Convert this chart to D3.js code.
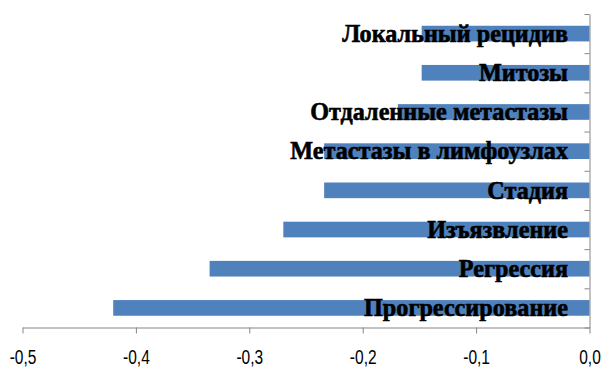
<!DOCTYPE html>
<html>
<head>
<meta charset="utf-8">
<script src="https://cdn.jsdelivr.net/npm/d3@7"></script>
<style>
  html, body { margin: 0; padding: 0; background: #fff; }
  svg { display: block; }
</style>
</head>
<body>
<svg id="chart" width="605" height="370"></svg>
<script>
// Categories, top to bottom
const categories = [
  "Локальный рецидив",
  "Митозы",
  "Отдаленные метастазы",
  "Метастазы в лимфоузлах",
  "Стадия",
  "Изъязвление",
  "Регрессия",
  "Прогрессирование"
];
// Coefficient for each category
const values = [-0.148, -0.148, -0.169, -0.234, -0.234, -0.270, -0.335, -0.420];
// Value axis ticks
const xTicks = [-0.5, -0.4, -0.3, -0.2, -0.1, 0.0];

const svg = d3.select("#chart");
const plot = { left: 22.5, right: 589.5, top: 14, bottom: 327.5 };

const x = d3.scaleLinear().domain([-0.5, 0]).range([plot.left, plot.right]);
const y = d3.scaleBand().domain(categories).range([plot.top, plot.bottom]).padding(0);
// Category boundaries for the tick marks on the vertical axis
const yEdge = d3.scaleLinear().domain([0, categories.length]).range([plot.top, plot.bottom]);

const barH = y.bandwidth() / 2.5;
const axisColor = "#868686";

// Bars
svg.append("g")
  .selectAll("rect")
  .data(values)
  .join("rect")
  .attr("x", d => x(d))
  .attr("width", d => x(0) - x(d))
  .attr("y", (d, i) => y(categories[i]) + (y.bandwidth() - barH) / 2)
  .attr("height", barH)
  .attr("fill", "#4F81BD");

// Value axis
const locale = d3.formatLocale({ decimal: ",", thousands: " ", grouping: [3], currency: ["", ""], minus: "-" });
const fmt = locale.format(".1f");
const xAxis = svg.append("g")
  .attr("transform", `translate(0,${plot.bottom})`)
  .call(d3.axisBottom(x).tickValues(xTicks).tickSize(6).tickSizeOuter(0).tickFormat(d => fmt(d)));
xAxis.select(".domain").attr("stroke", axisColor);
xAxis.selectAll(".tick line").attr("stroke", axisColor);
xAxis.selectAll(".tick text")
  .attr("y", 36.8).attr("dy", 0)
  .attr("fill", "#000")
  .style("font-family", "'Liberation Sans', Arial, sans-serif")
  .style("font-size", "19.5px");
// narrow the tick labels
{
  const t = xAxis.select(".tick text").node();
  const sx = 26.7 / t.getComputedTextLength();
  xAxis.selectAll(".tick text").attr("transform", `scale(${sx},1)`);
}

// Category axis at zero, tick marks at category boundaries
const yAxis = svg.append("g")
  .attr("transform", `translate(${x(0)},0)`)
  .call(d3.axisLeft(yEdge).tickValues(d3.range(categories.length + 1)).tickSize(5).tickSizeOuter(0).tickFormat(""));
yAxis.select(".domain").attr("stroke", axisColor);
yAxis.selectAll(".tick line").attr("stroke", axisColor);

// Category labels drawn over the bars
const labels = svg.append("g")
  .selectAll("text")
  .data(categories)
  .join("text")
  .text(d => d)
  .attr("text-anchor", "end")
  .attr("fill", "#000")
  .attr("stroke", "#000")
  .attr("stroke-width", 0.6)
  .style("font-family", "'Liberation Serif', 'Times New Roman', serif")
  .style("font-weight", "bold")
  .style("font-size", "25px");
{
  const ref = labels.filter(d => d === "Прогрессирование").node();
  const sx = 204 / ref.getComputedTextLength();
  labels.attr("transform", d => `translate(568,${y(d) + y.bandwidth() / 2 + 8.3}) scale(${sx},1)`);
}
</script>
</body>
</html>
